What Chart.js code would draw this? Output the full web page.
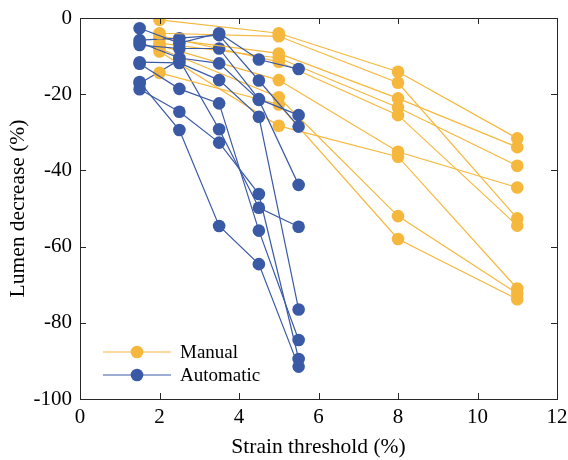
<!DOCTYPE html>
<html>
<head>
<meta charset="utf-8">
<title>Lumen decrease vs strain threshold</title>
<script src="https://cdn.jsdelivr.net/npm/chart.js@4"></script>
<style>
  html, body { margin: 0; padding: 0; background: #fff; }
  #wrap { width: 568px; height: 460px; }
</style>
</head>
<body>
<div id="wrap"><canvas id="chart" width="568" height="460"></canvas></div>
<script>
/* ---------- Dados ---------- */
const manualX = [2, 5, 8, 11];
const autoX   = [1.5, 2.5, 3.5, 4.5, 5.5];

// Manual: um array por amostra (lumen decrease, %)
const manualSeries = [
  [-0.5,  -4.0, -14.1, -31.6],
  [-4.0,  -4.8, -17.0, -52.6],
  [-5.3,  -9.3, -21.1, -33.9],
  [-6.6, -10.5, -23.5, -38.8],
  [-4.6, -11.5, -25.5, -54.5],
  [-7.2, -16.3, -35.1, -44.5],
  [-8.0, -20.8, -52.0, -72.3],
  [-14.4, -22.7, -58.0, -73.8],
  [-8.8, -28.3, -36.4, -71.0],
];

// Automatic
const autoSeries = [
  [-2.7,  -6.6,  -4.0, -10.9, -13.4],
  [-5.8,  -5.3,  -4.5, -16.4, -28.5],
  [-7.1,  -8.0,  -8.0, -21.3, -25.5],
  [-6.4, -10.5, -11.9, -21.5, -43.8],
  [-11.6, -11.8, -16.3, -25.9, -76.5],
  [-12.0, -18.6, -22.4, -55.8, -84.5],
  [-18.7, -24.6, -32.7, -46.2, -89.5],
  [-16.8, -29.4, -54.6, -64.6, -91.5],
  [-17.2, -11.0, -29.2, -49.8, -54.8],
];

const xTicks = [0, 2, 4, 6, 8, 10, 12];
const yTicks = [-100, -80, -60, -40, -20, 0];
const legendLabels = ['Manual', 'Automatic'];

/* ---------- Estilo ---------- */
const ORANGE = '#F5B83D';
const BLUE   = '#3A5AA6';
const AXIS   = '#262626';
const FONT   = 'Liberation Serif, Times New Roman, serif';

function toPoints(xs, ys) {
  return ys.map((y, i) => ({ x: xs[i], y }));
}

function makeSet(xs, ys, color) {
  return {
    data: toPoints(xs, ys),
    showLine: true,
    borderColor: color,
    backgroundColor: color,
    borderWidth: 1.2,
    pointRadius: 6.3,
    pointBorderWidth: 0,
    pointBackgroundColor: color,
  };
}

// intercala manual / automatic para misturar a ordem de desenho
const datasets = [];
for (let i = 0; i < Math.max(manualSeries.length, autoSeries.length); i++) {
  if (manualSeries[i]) datasets.push(makeSet(manualX, manualSeries[i], ORANGE));
  if (autoSeries[i])   datasets.push(makeSet(autoX, autoSeries[i], BLUE));
}

/* ---------- Moldura com ticks para dentro (estilo MATLAB) ---------- */
const framePlugin = {
  id: 'frame',
  afterDatasetsDraw(chart) {
    const { ctx, chartArea: a, scales: { x, y } } = chart;
    const t = 6;
    ctx.save();
    ctx.strokeStyle = AXIS;
    ctx.lineWidth = 1;
    ctx.strokeRect(a.left + 0.5, a.top + 0.5, a.right - a.left, a.bottom - a.top);
    ctx.beginPath();
    xTicks.forEach(v => {
      const px = Math.round(x.getPixelForValue(v)) + 0.5;
      ctx.moveTo(px, a.bottom); ctx.lineTo(px, a.bottom - t);
      ctx.moveTo(px, a.top);    ctx.lineTo(px, a.top + t);
    });
    yTicks.forEach(v => {
      const py = Math.round(y.getPixelForValue(v)) + 0.5;
      ctx.moveTo(a.left, py);  ctx.lineTo(a.left + t, py);
      ctx.moveTo(a.right, py); ctx.lineTo(a.right - t, py);
    });
    ctx.stroke();
    ctx.restore();
  },
};

/* ---------- Legenda (linha + marcador) ---------- */
const legendPlugin = {
  id: 'lineLegend',
  afterDraw(chart) {
    const { ctx } = chart;
    const rows = [
      { label: legendLabels[0], color: ORANGE, y: 352 },
      { label: legendLabels[1], color: BLUE,   y: 375 },
    ];
    ctx.save();
    rows.forEach(r => {
      ctx.strokeStyle = r.color;
      ctx.fillStyle = r.color;
      ctx.lineWidth = 1.2;
      ctx.beginPath();
      ctx.moveTo(103, r.y); ctx.lineTo(171, r.y);
      ctx.stroke();
      ctx.beginPath();
      ctx.arc(137, r.y, 6.3, 0, Math.PI * 2);
      ctx.fill();
      ctx.fillStyle = '#000';
      ctx.font = '19px ' + FONT;
      ctx.textBaseline = 'middle';
      ctx.fillText(r.label, 180, r.y + 1);
    });
    ctx.restore();
  },
};

/* ---------- Gráfico ---------- */
new Chart(document.getElementById('chart'), {
  type: 'scatter',
  data: { datasets },
  plugins: [framePlugin, legendPlugin],
  options: {
    responsive: false,
    animation: false,
    events: [],
    layout: { padding: { top: 18, right: 11, left: 0, bottom: 0 } },
    plugins: { legend: { display: false }, tooltip: { enabled: false } },
    scales: {
      x: {
        type: 'linear', min: 0, max: 12,
        afterBuildTicks: s => { s.ticks = xTicks.map(v => ({ value: v })); },
        afterFit: s => { s.height = 61; s.paddingLeft = 0; s.paddingRight = 0; },
        grid: { display: false, drawTicks: false },
        border: { display: false },
        ticks: { color: '#000', padding: 6, font: { family: FONT, size: 21 } },
        title: {
          display: true, text: 'Strain threshold (%)', color: '#000',
          font: { family: FONT, size: 21.5 }, padding: { top: 0, bottom: 0 },
        },
      },
      y: {
        type: 'linear', min: -100, max: 0,
        afterBuildTicks: s => { s.ticks = yTicks.map(v => ({ value: v })); },
        afterFit: s => { s.width = 80; s.paddingTop = 0; s.paddingBottom = 0; },
        grid: { display: false, drawTicks: false },
        border: { display: false },
        ticks: { color: '#000', padding: 8, font: { family: FONT, size: 21 } },
        title: {
          display: true, text: 'Lumen decrease (%)', color: '#000',
          font: { family: FONT, size: 21.5 }, padding: { top: 5, bottom: 0 },
        },
      },
    },
  },
});
</script>
</body>
</html>
